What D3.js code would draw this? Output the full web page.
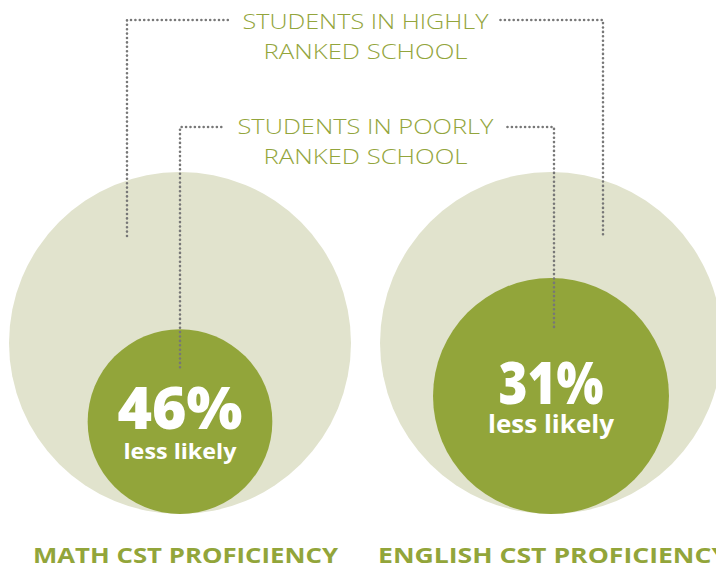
<!DOCTYPE html>
<html>
<head>
<meta charset="utf-8">
<script src="https://cdn.jsdelivr.net/npm/d3@7"></script>
<style>
  html, body { margin: 0; padding: 0; background: #fff; }
  svg { display: block; }
</style>
</head>
<body>
<svg id="chart" width="716" height="567"></svg>
<script>
// ---- data ----
const categories = ["MATH CST PROFICIENCY", "ENGLISH CST PROFICIENCY"];
const lessLikely = [46, 31];           // % less likely (poorly ranked vs highly ranked)
const baseline = [100, 100];           // highly ranked school = reference
const highlyLabel = ["STUDENTS IN HIGHLY", "RANKED SCHOOL"];
const poorlyLabel = ["STUDENTS IN POORLY", "RANKED SCHOOL"];
const subLabel = "less likely";

// ---- setup ----
const W = 716, H = 567;
const svg = d3.select("#chart");
const light = "#e1e3cd", dark = "#92a53a", textGreen = "#93a53c", dotGray = "#777777";
const font = "'Open Sans', 'DejaVu Sans', sans-serif";

const x = d3.scalePoint().domain(categories).range([180, 551]);
const r = d3.scaleLinear().domain([0, 100]).range([0, 171]);
const bottomY = 514;

const pctWidth = [125, 105], subWidth = [113, 126], subSize = [22, 25];
const catWidth = [305, 350], catShift = [5.5, 2];

const data = categories.map((c, i) => ({
  i, cat: c, pct: lessLikely[i], base: baseline[i],
  cx: x(c), R: r(baseline[i]), rs: r(baseline[i] - lessLikely[i])
}));

// big circles
svg.selectAll("circle.big").data(data).join("circle")
  .attr("class", "big")
  .attr("cx", d => d.cx).attr("cy", d => bottomY - d.R).attr("r", d => d.R)
  .attr("fill", light);

// small circles
svg.selectAll("circle.small").data(data).join("circle")
  .attr("class", "small")
  .attr("cx", d => d.cx).attr("cy", d => bottomY - d.rs).attr("r", d => d.rs)
  .attr("fill", dark);

// ---- annotation connectors ----
const midX = (x(categories[0]) + x(categories[1])) / 2;
const dotStyle = sel => sel.attr("fill", "none").attr("stroke", dotGray)
  .attr("stroke-width", 2.6).attr("stroke-linecap", "round").attr("stroke-dasharray", "0 4.4");

const hl = data[0], hr = data[1];
// highly: ends inside big circles
const hY = 20;
const hLeftX = hl.cx - 53, hRightX = hr.cx + 52;
const hEnd = bottomY - 2 * hl.R + 64;
svg.append("path").call(dotStyle)
  .attr("d", d3.line()([[hLeftX, hEnd], [hLeftX, hY], [midX - 137, hY]]));
svg.append("path").call(dotStyle)
  .attr("d", d3.line()([[midX + 135, hY], [hRightX, hY], [hRightX, hEnd]]));

// poorly: ends inside small circles
const pY = 127;
const pLeftX = hl.cx, pRightX = hr.cx + 3;
const pEndL = bottomY - 2 * hl.rs + 38, pEndR = bottomY - 2 * hr.rs + 53;
svg.append("path").call(dotStyle)
  .attr("d", d3.line()([[pLeftX, pEndL], [pLeftX, pY], [midX - 141, pY]]));
svg.append("path").call(dotStyle)
  .attr("d", d3.line()([[midX + 142, pY], [pRightX, pY], [pRightX, pEndR]]));

// header labels
function header(lines, y0, widths) {
  lines.forEach((t, i) => {
    svg.append("text")
      .attr("x", midX).attr("y", y0 + i * 30)
      .attr("text-anchor", "middle")
      .attr("font-family", font).attr("font-weight", 300)
      .attr("font-size", 21).attr("fill", textGreen)
      .attr("textLength", widths[i]).attr("lengthAdjust", "spacingAndGlyphs")
      .text(t);
  });
}
header(highlyLabel, 29, [246, 204]);
header(poorlyLabel, 134, [256, 204]);

// percent labels
svg.selectAll("text.pct").data(data).join("text")
  .attr("class", "pct")
  .attr("x", d => d.cx).attr("y", d => bottomY - d.rs + 7.5)
  .attr("text-anchor", "middle")
  .attr("font-family", font).attr("font-weight", 800)
  .attr("font-size", 59).attr("fill", "#fff")
  .attr("textLength", d => pctWidth[d.i]).attr("lengthAdjust", "spacingAndGlyphs")
  .text(d => d.pct + "%");

svg.selectAll("text.sub").data(data).join("text")
  .attr("class", "sub")
  .attr("x", d => d.cx).attr("y", d => bottomY - d.rs + 37)
  .attr("text-anchor", "middle")
  .attr("font-family", font).attr("font-weight", 700)
  .attr("font-size", d => subSize[d.i]).attr("fill", "#fff")
  .attr("textLength", d => subWidth[d.i]).attr("lengthAdjust", "spacingAndGlyphs")
  .text(subLabel);

// category labels
svg.selectAll("text.cat").data(data).join("text")
  .attr("class", "cat")
  .attr("x", d => d.cx + catShift[d.i]).attr("y", 563)
  .attr("text-anchor", "middle")
  .attr("font-family", font).attr("font-weight", 700)
  .attr("font-size", 21).attr("fill", dark)
  .attr("textLength", d => catWidth[d.i]).attr("lengthAdjust", "spacingAndGlyphs")
  .text(d => d.cat);
</script>
</body>
</html>
